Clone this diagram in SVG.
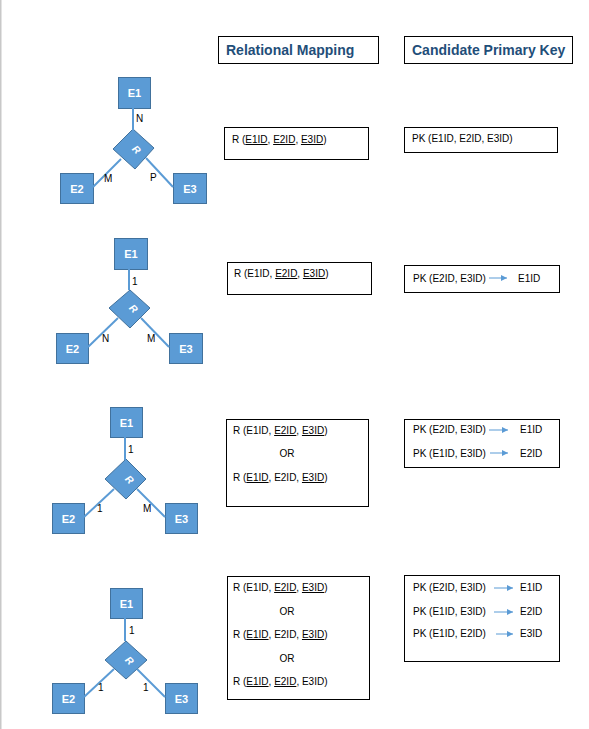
<svg xmlns="http://www.w3.org/2000/svg" width="589" height="729" viewBox="0 0 589 729">
<style>
.ent{fill:#5b9bd5;stroke:#41719c;stroke-width:1}
.et{font-family:"Liberation Sans",Arial,sans-serif;font-size:11px;font-weight:bold;fill:#fff;text-anchor:middle}
.rt{font-family:"Liberation Sans",Arial,sans-serif;font-size:10px;font-weight:bold;font-style:italic;fill:#fff;text-anchor:middle}
.ln{stroke:#5b9bd5;stroke-width:2;fill:none}
.lb{font-family:"Liberation Sans",Arial,sans-serif;font-size:10px;fill:#000}
.box{fill:#fff;stroke:#000;stroke-width:1}
.hd{font-family:"Liberation Sans",Arial,sans-serif;font-size:14px;font-weight:bold;fill:#1f4e79}
.tx{font-family:"Liberation Sans",Arial,sans-serif;font-size:10px;fill:#000}
.u{text-decoration:underline}
.ar{stroke:#5b9bd5;stroke-width:1;fill:none;marker-end:url(#ah)}
</style>
<defs>
<marker id="ah" viewBox="0 0 10 10" refX="10" refY="5" markerWidth="6" markerHeight="6" markerUnits="userSpaceOnUse" orient="auto">
<path d="M0,0 L10,5 L0,10 z" fill="#5b9bd5"/>
</marker>
</defs>
<rect x="0" y="0" width="1.5" height="729" fill="#c8c8c8"/>

<g id="hdr-rel"><rect class="box" x="218.5" y="36.5" width="160" height="27"/><text class="hd" x="226" y="55">Relational Mapping</text></g>
<g id="hdr-pk"><rect class="box" x="404.5" y="36.5" width="168" height="27"/><text class="hd" x="412" y="55">Candidate Primary Key</text></g>

<!-- Diagram 1 -->
<g id="d1-E1"><rect class="ent" x="118.5" y="77.5" width="32" height="31"/><text class="et" x="134.5" y="97">E1</text></g>
<g id="d1-R"><polygon class="ent" points="133,129 154,148 135,169 113,149"/><text class="rt" transform="translate(134,152) rotate(45)">R</text></g>
<g id="d1-E2"><rect class="ent" x="60.5" y="173.5" width="33" height="30"/><text class="et" x="77" y="192.5">E2</text></g>
<g id="d1-E3"><rect class="ent" x="173.5" y="173.5" width="33" height="30"/><text class="et" x="190" y="192.5">E3</text></g>
<g id="d1-rel"><rect class="box" x="224.5" y="127.5" width="144" height="32"/>
<text class="tx" x="232" y="143">R (<tspan class="u">E1ID</tspan>, <tspan class="u">E2ID</tspan>, <tspan class="u">E3ID</tspan>)</text></g>
<g id="d1-pk"><rect class="box" x="404.5" y="127.5" width="153" height="25"/>
<text class="tx" x="412" y="142">PK (E1ID, E2ID, E3ID)</text></g>

<!-- Diagram 2 -->
<g id="d2-E1"><rect class="ent" x="114.5" y="238.5" width="33" height="31"/><text class="et" x="131" y="258">E1</text></g>
<g id="d2-R"><polygon class="ent" points="130,290 150,308 130,328 109,308"/><text class="rt" transform="translate(131,311) rotate(45)">R</text></g>
<g id="d2-E2"><rect class="ent" x="56.5" y="333.5" width="32" height="30"/><text class="et" x="72.5" y="352.5">E2</text></g>
<g id="d2-E3"><rect class="ent" x="169.5" y="333.5" width="33" height="30"/><text class="et" x="186" y="352.5">E3</text></g>
<g id="d2-rel"><rect class="box" x="227.5" y="262.5" width="144" height="32"/>
<text class="tx" x="234" y="277">R (E1ID, <tspan class="u">E2ID</tspan>, <tspan class="u">E3ID</tspan>)</text></g>
<g id="d2-pk"><rect class="box" x="404.5" y="265.5" width="155" height="27"/>
<text class="tx" x="413" y="282">PK (E2ID, E3ID)</text><text class="tx" x="518" y="282">E1ID</text></g>

<!-- Diagram 3 -->
<g id="d3-E1"><rect class="ent" x="110.5" y="407.5" width="32" height="30"/><text class="et" x="126.5" y="426.5">E1</text></g>
<g id="d3-R"><polygon class="ent" points="126,459 146,479 126,499 105,479"/><text class="rt" transform="translate(127,482) rotate(45)">R</text></g>
<g id="d3-E2"><rect class="ent" x="52.5" y="503.5" width="32" height="30"/><text class="et" x="68.5" y="522.5">E2</text></g>
<g id="d3-E3"><rect class="ent" x="165.5" y="503.5" width="32" height="30"/><text class="et" x="181.5" y="522.5">E3</text></g>
<g id="d3-rel"><rect class="box" x="226.5" y="419.5" width="142" height="87"/>
<text class="tx" x="233" y="434">R (E1ID, <tspan class="u">E2ID</tspan>, <tspan class="u">E3ID</tspan>)</text>
<text class="tx" x="287" y="457" text-anchor="middle">OR</text>
<text class="tx" x="233" y="481">R (<tspan class="u">E1ID</tspan>, E2ID, <tspan class="u">E3ID</tspan>)</text></g>
<g id="d3-pk"><rect class="box" x="404.5" y="419.5" width="155" height="48"/>
<text class="tx" x="413" y="433">PK (E2ID, E3ID)</text><text class="tx" x="520" y="433">E1ID</text>
<text class="tx" x="413" y="457">PK (E1ID, E3ID)</text><text class="tx" x="520" y="457">E2ID</text></g>

<!-- Diagram 4 -->
<g id="d4-E1"><rect class="ent" x="110.5" y="588.5" width="32" height="30"/><text class="et" x="126.5" y="607.5">E1</text></g>
<g id="d4-R"><polygon class="ent" points="126,641 147,660 126,679 105,660"/><text class="rt" transform="translate(127,663) rotate(45)">R</text></g>
<g id="d4-E2"><rect class="ent" x="52.5" y="683.5" width="32" height="30"/><text class="et" x="68.5" y="702.5">E2</text></g>
<g id="d4-E3"><rect class="ent" x="165.5" y="683.5" width="32" height="30"/><text class="et" x="181.5" y="702.5">E3</text></g>
<g id="d4-rel"><rect class="box" x="227.5" y="576.5" width="142" height="123"/>
<text class="tx" x="233" y="591">R (E1ID, <tspan class="u">E2ID</tspan>, <tspan class="u">E3ID</tspan>)</text>
<text class="tx" x="287" y="615" text-anchor="middle">OR</text>
<text class="tx" x="233" y="638">R (<tspan class="u">E1ID</tspan>, E2ID, <tspan class="u">E3ID</tspan>)</text>
<text class="tx" x="287" y="662" text-anchor="middle">OR</text>
<text class="tx" x="233" y="685">R (<tspan class="u">E1ID</tspan>, <tspan class="u">E2ID</tspan>, E3ID)</text></g>
<g id="d4-pk"><rect class="box" x="404.5" y="575.5" width="155" height="86"/>
<text class="tx" x="413" y="591">PK (E2ID, E3ID)</text><text class="tx" x="520" y="591">E1ID</text>
<text class="tx" x="413" y="615">PK (E1ID, E3ID)</text><text class="tx" x="520" y="615">E2ID</text>
<text class="tx" x="413" y="637">PK (E1ID, E2ID)</text><text class="tx" x="520" y="637">E3ID</text></g>

<g id="connectors">
<line class="ln" x1="133" y1="108" x2="133" y2="130"/>
<line class="ln" x1="121" y1="159" x2="93" y2="187"/>
<line class="ln" x1="146" y1="158" x2="173" y2="187"/>
<line class="ln" x1="129" y1="269" x2="129" y2="290"/>
<line class="ln" x1="118" y1="318" x2="88" y2="347"/>
<line class="ln" x1="141" y1="318" x2="169" y2="347"/>
<line class="ln" x1="125" y1="437" x2="125" y2="460"/>
<line class="ln" x1="114" y1="489" x2="84" y2="517"/>
<line class="ln" x1="137" y1="489" x2="165" y2="517"/>
<line class="ln" x1="125" y1="618" x2="125" y2="641"/>
<line class="ln" x1="114" y1="669" x2="84" y2="697"/>
<line class="ln" x1="137" y1="669" x2="165" y2="697"/>
<line class="ar" x1="489" y1="278" x2="507" y2="278"/>
<line class="ar" x1="489" y1="430" x2="508" y2="430"/>
<line class="ar" x1="490" y1="453" x2="508" y2="453"/>
<line class="ar" x1="494" y1="588" x2="513" y2="588"/>
<line class="ar" x1="494" y1="612" x2="513" y2="612"/>
<line class="ar" x1="496" y1="634" x2="513" y2="634"/>
<text class="lb" x="136" y="122">N</text>
<text class="lb" x="104" y="182">M</text>
<text class="lb" x="150" y="181">P</text>
<text class="lb" x="132" y="285">1</text>
<text class="lb" x="102" y="342">N</text>
<text class="lb" x="147" y="342">M</text>
<text class="lb" x="128" y="453">1</text>
<text class="lb" x="97" y="512">1</text>
<text class="lb" x="143" y="512">M</text>
<text class="lb" x="129" y="634">1</text>
<text class="lb" x="98" y="691">1</text>
<text class="lb" x="143" y="691">1</text>
</g>
</svg>
